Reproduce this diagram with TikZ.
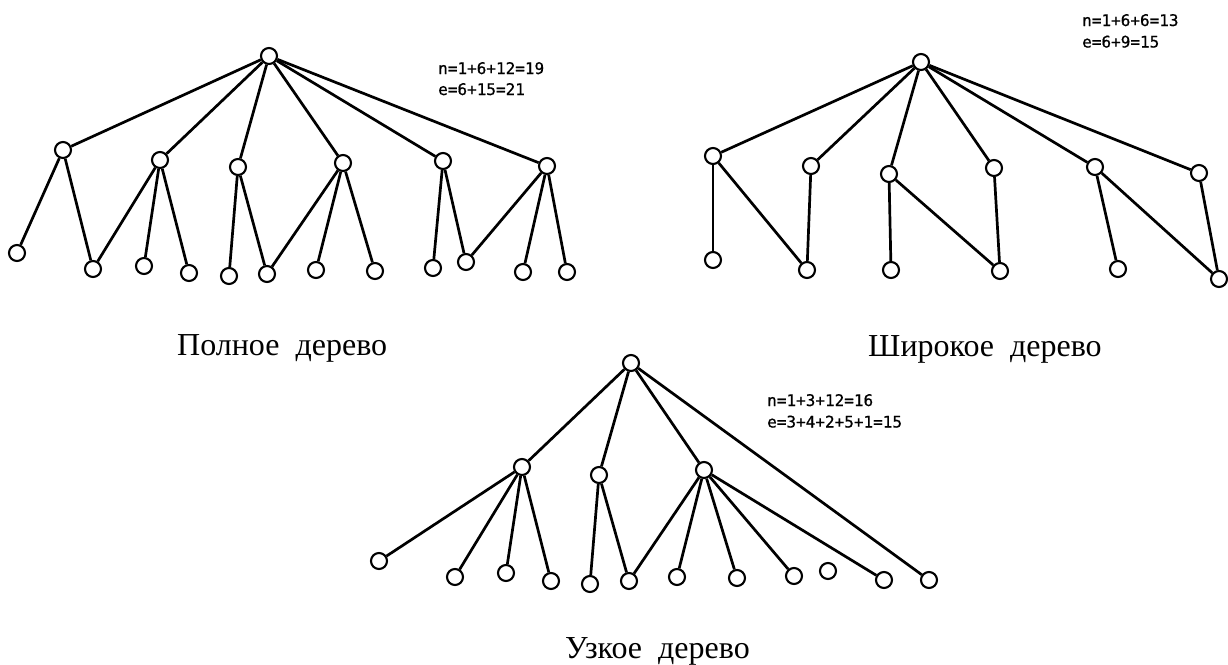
\documentclass[tikz,border=0pt]{standalone}
\usepackage{fontspec}
\setmainfont{Liberation Serif}
\newfontfamily\monof[FakeBold=0.7]{DejaVu Sans Mono}
\begin{document}
\begin{tikzpicture}[x=1pt,y=-1pt,
  vtx/.style={circle,draw,line width=2.1pt,minimum size=16pt,inner sep=0pt,fill=white},
  edg/.style={line width=2.7pt},
  ttl/.style={anchor=base west,inner sep=0pt,font=\fontsize{32}{38}\selectfont},
  frm/.style={anchor=base west,inner sep=0pt,font=\monof\fontsize{16}{19}\selectfont}]
\useasboundingbox[fill=white] (0,0) rectangle (1228,664);

% ---------- Полное дерево ----------
\node[vtx] (r1) at (269,56) {};
\node[vtx] (a1) at (63,150) {};
\node[vtx] (a2) at (160,160) {};
\node[vtx] (a3) at (238,167) {};
\node[vtx] (a4) at (343,163) {};
\node[vtx] (a5) at (443,161) {};
\node[vtx] (a6) at (547,166) {};
\node[vtx] (l1) at (17,253) {};
\node[vtx] (l2) at (93,269) {};
\node[vtx] (l3) at (144,266) {};
\node[vtx] (l4) at (189,273) {};
\node[vtx] (l5) at (229,276) {};
\node[vtx] (l6) at (267,274) {};
\node[vtx] (l7) at (316,270) {};
\node[vtx] (l8) at (375,271) {};
\node[vtx] (l9) at (433,268) {};
\node[vtx] (l10) at (466,262) {};
\node[vtx] (l11) at (523,272) {};
\node[vtx] (l12) at (567,272) {};
\foreach \c in {a1,a2,a3,a4,a5,a6} \draw[edg] (r1) -- (\c);
\draw[edg] (a1) -- (l1); \draw[edg] (a1) -- (l2);
\draw[edg] (a2) -- (l2); \draw[edg] (a2) -- (l3); \draw[edg] (a2) -- (l4);
\draw[edg] (a3) -- (l5); \draw[edg] (a3) -- (l6);
\draw[edg] (a4) -- (l6); \draw[edg] (a4) -- (l7); \draw[edg] (a4) -- (l8);
\draw[edg] (a5) -- (l9); \draw[edg] (a5) -- (l10);
\draw[edg] (a6) -- (l10); \draw[edg] (a6) -- (l11); \draw[edg] (a6) -- (l12);
\node[frm] (f1n) at (438,74) {n=1+6+12=19};
\node[frm] (f1e) at (438,95) {e=6+15=21};
\node[ttl] (t1) at (177,355) {Полное\ \ дерево};

% ---------- Широкое дерево ----------
\node[vtx] (r2) at (921,62) {};
\node[vtx] (b1) at (713,156) {};
\node[vtx] (b2) at (811,166) {};
\node[vtx] (b3) at (889,174) {};
\node[vtx] (b4) at (994,168) {};
\node[vtx] (b5) at (1095,167) {};
\node[vtx] (b6) at (1199,173) {};
\node[vtx] (m1) at (713,260) {};
\node[vtx] (m2) at (807,270) {};
\node[vtx] (m3) at (891,270) {};
\node[vtx] (m4) at (1000,271) {};
\node[vtx] (m5) at (1118,269) {};
\node[vtx] (m6) at (1219,279) {};
\foreach \c in {b1,b2,b3,b4,b5,b6} \draw[edg] (r2) -- (\c);
\draw[edg] (b1) -- (m1); \draw[edg] (b1) -- (m2);
\draw[edg] (b2) -- (m2);
\draw[edg] (b3) -- (m3); \draw[edg] (b3) -- (m4);
\draw[edg] (b4) -- (m4);
\draw[edg] (b5) -- (m5); \draw[edg] (b5) -- (m6);
\draw[edg] (b6) -- (m6);
\node[frm] (f2n) at (1082,26) {n=1+6+6=13};
\node[frm] (f2e) at (1082,47.5) {e=6+9=15};
\node[ttl] (t2) at (868,356) {Широкое\ \ дерево};

% ---------- Узкое дерево ----------
\node[vtx] (r3) at (631,363) {};
\node[vtx] (c1) at (522,467) {};
\node[vtx] (c2) at (599,475) {};
\node[vtx] (c3) at (704,470) {};
\node[vtx] (n1) at (379,561) {};
\node[vtx] (n2) at (455,577) {};
\node[vtx] (n3) at (506,573) {};
\node[vtx] (n4) at (551,581) {};
\node[vtx] (n5) at (590,584) {};
\node[vtx] (n6) at (629,581) {};
\node[vtx] (n7) at (677,577) {};
\node[vtx] (n8) at (737,578) {};
\node[vtx] (n9) at (794,576) {};
\node[vtx] (n10) at (828,571) {};
\node[vtx] (n11) at (884,580) {};
\node[vtx] (n12) at (929,580) {};
\foreach \c in {c1,c2,c3,n12} \draw[edg] (r3) -- (\c);
\foreach \c in {n1,n2,n3,n4} \draw[edg] (c1) -- (\c);
\draw[edg] (c2) -- (n5); \draw[edg] (c2) -- (n6);
\foreach \c in {n6,n7,n8,n9,n11} \draw[edg] (c3) -- (\c);
\node[frm] (f3n) at (767,406) {n=1+3+12=16};
\node[frm] (f3e) at (767,427.5) {e=3+4+2+5+1=15};
\node[ttl] (t3) at (565,658) {Узкое\ \ дерево};
\end{tikzpicture}
\end{document}
